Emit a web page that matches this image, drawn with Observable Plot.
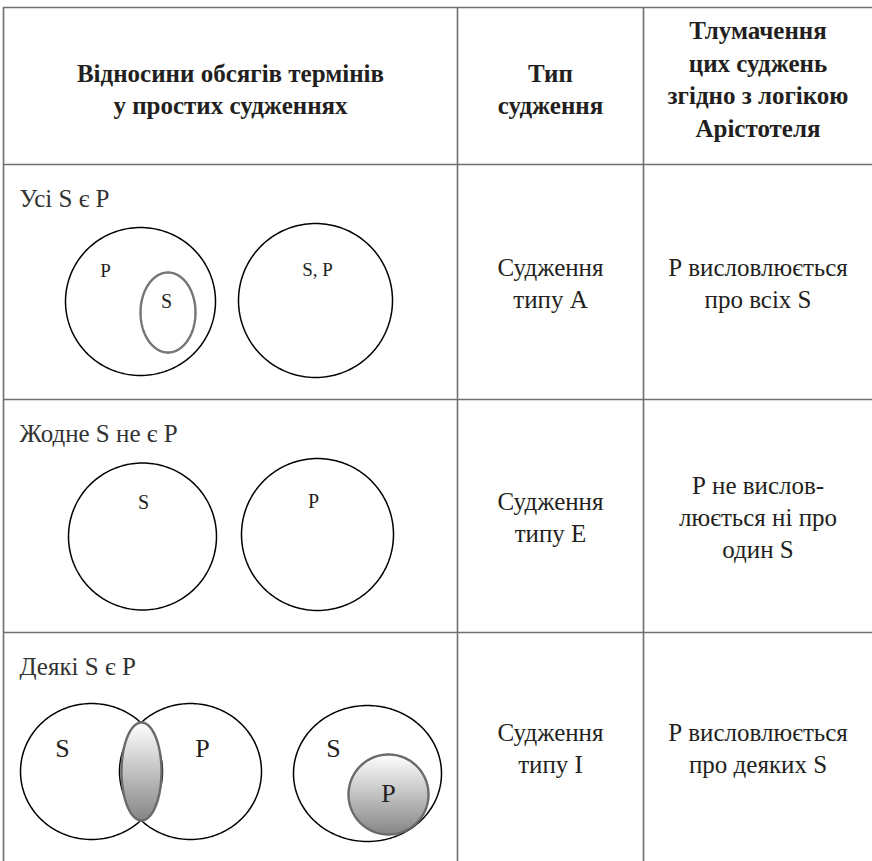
<!DOCTYPE html>
<html><head><meta charset="utf-8">
<script src="https://cdn.jsdelivr.net/npm/d3@7"></script>
<script src="https://cdn.jsdelivr.net/npm/@observablehq/plot@0.6"></script>
</head><body style="margin:0;background:#fff">
<div id="chart"></div>
<script>
// ---- content ----
const headers = [
  ["Відносини обсягів термінів", "у простих судженнях"],
  ["Тип", "судження"],
  ["Тлумачення", "цих суджень", "згідно з логікою", "Арістотеля"]
];
const statements = ["Усі S є P", "Жодне S не є P", "Деякі S є P"];
const judgmentTypes = [["Судження", "типу А"], ["Судження", "типу Е"], ["Судження", "типу І"]];
const interpretations = [
  ["Р висловлюється", "про всіх S"],
  ["Р не вислов-", "люється ні про", "один S"],
  ["Р висловлюється", "про деяких S"]
];
const shapeNames = ["P", "S", "S, P", "S", "P", "S", "P", "S∩P", "S", "P"];
const shapeKinds = ["outline", "inner", "outline", "outline", "outline", "outline", "outline", "shaded", "outline", "shaded"];
const labelTexts = ["P", "S", "S, P", "S", "P", "S", "P", "S", "P"];

// ---- layout (pixel geometry of the table and diagrams) ----
const W = 872, H = 861;
const colEdges = [3, 457, 643, 872];
const rowEdges = [7, 164, 399, 632, 861];
const headerDy = [4, 4, -6];
const headerLineH = 32.5, bodyLineH = 32;
const shapeGeom = [
  [140, 301, 75, 74], [167.5, 312, 27.5, 40], [315, 300, 77, 77],
  [142, 536, 74, 73.5], [317, 534, 76, 76],
  [91, 771, 71, 68], [190, 771, 71, 68], [141, 771, 20, 49],
  [367, 773, 74, 68], [388, 794, 40, 40]
];
const labelGeom = [
  [105, 276, 19], [166, 307, 20], [317, 275, 19],
  [143, 508, 20], [313, 507, 20],
  [62, 756, 26], [202, 756, 26], [333, 756, 26], [388, 801, 26]
];

const font = `"Liberation Serif", Tinos, FreeSerif, "PT Serif", "Noto Serif CJK SC", serif`;
const ink = "#231f20";
const gridColor = "#6f6f6f";

// ---- derived tables ----
const colCenter = i => (colEdges[i] + colEdges[i + 1]) / 2;
const rowCenter = r => (rowEdges[r] + rowEdges[r + 1]) / 2;

const headerText = headers.flatMap((lines, c) => lines.map((t, i) => ({
  text: t, x: colCenter(c),
  y: rowCenter(0) + headerDy[c] + (i - (lines.length - 1) / 2) * headerLineH
})));

const bodyText = [];
[judgmentTypes, interpretations].forEach((col, k) => {
  col.forEach((lines, r) => lines.forEach((t, i) => bodyText.push({
    text: t, x: colCenter(k + 1),
    y: rowCenter(r + 1) + 2 + (i - (lines.length - 1) / 2) * bodyLineH
  })));
});

const statementText = statements.map((t, r) => ({text: t, x: colEdges[0] + 16, y: rowEdges[r + 1] + 42}));

const shapes = shapeNames.map((n, i) => ({id: i, name: n, kind: shapeKinds[i],
  cx: shapeGeom[i][0], cy: shapeGeom[i][1], rx: shapeGeom[i][2], ry: shapeGeom[i][3]}));
const outlinePts = kind => shapes.filter(s => s.kind === kind).flatMap(s =>
  d3.range(0, 360, 2).map(a => ({id: s.id,
    x: s.cx + s.rx * Math.cos(a * Math.PI / 180),
    y: s.cy + s.ry * Math.sin(a * Math.PI / 180)})));

const labels = labelTexts.map((t, i) => ({text: t, x: labelGeom[i][0], y: labelGeom[i][1], size: labelGeom[i][2]}));

const hLines = rowEdges.slice(0, 4);
const vLines = colEdges.slice(0, 3);

const chart = Plot.plot({
  width: W, height: H,
  margin: 0,
  x: {domain: [0, W], range: [0, W], axis: null},
  y: {domain: [0, H], range: [0, H], axis: null},
  marks: [
    Plot.ruleY(hLines, {y: d => d, x1: colEdges[0], x2: W, stroke: gridColor, strokeWidth: 1.6}),
    Plot.ruleX(vLines, {x: d => d, y1: rowEdges[0], y2: H, stroke: gridColor, strokeWidth: 1.6}),
    Plot.line(outlinePts("outline"), {x: "x", y: "y", z: "id", curve: "linear-closed", stroke: "#000", strokeWidth: 1.5, fill: "none"}),
    Plot.line(outlinePts("inner"), {x: "x", y: "y", z: "id", curve: "linear-closed", stroke: "#767676", strokeWidth: 2.4, fill: "none"}),
    Plot.line(outlinePts("shaded"), {x: "x", y: "y", z: "id", curve: "linear-closed", stroke: "#6a6a6a", strokeWidth: 2.4, fill: "url(#shade)"}),
    Plot.text(headerText, {x: "x", y: "y", text: "text", textAnchor: "middle", lineAnchor: "middle", fontSize: 25, fontWeight: "bold", fill: ink, fontFamily: font}),
    Plot.text(bodyText, {x: "x", y: "y", text: "text", textAnchor: "middle", lineAnchor: "middle", fontSize: 25, fill: ink, fontFamily: font}),
    Plot.text(statementText, {x: "x", y: "y", text: "text", textAnchor: "start", lineAnchor: "bottom", fontSize: 25, fill: "#333", fontFamily: font}),
    Plot.text(labels, {x: "x", y: "y", text: "text", textAnchor: "middle", lineAnchor: "bottom", fontSize: "size", fill: ink, fontFamily: font})
  ]
});

d3.select(chart).insert("defs", ":first-child").html(
  '<linearGradient id="shade" x1="0" y1="0" x2="0" y2="1">' +
  '<stop offset="0" stop-color="#ffffff"/><stop offset="1" stop-color="#858585"/></linearGradient>');

document.getElementById("chart").appendChild(chart);
</script>
</body></html>
